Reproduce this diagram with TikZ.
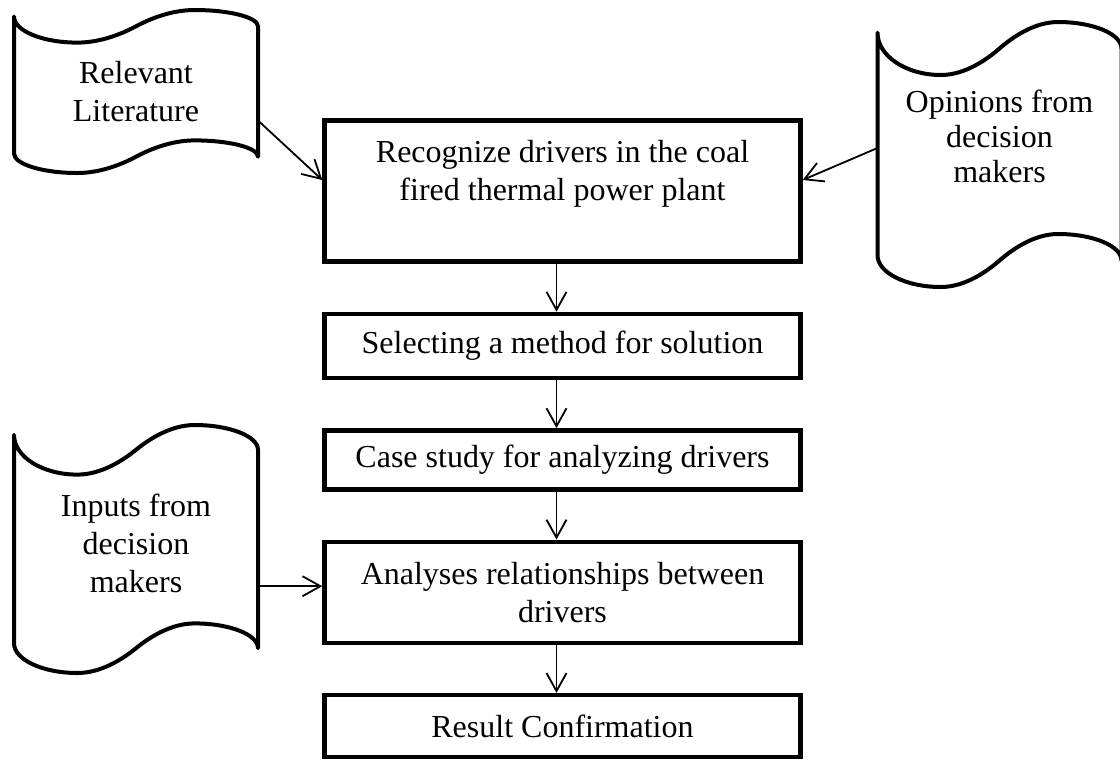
\documentclass[tikz,border=0pt]{standalone}
\usepackage{fontspec}
\setmainfont{Liberation Serif}
\usepackage{tikz}
\usetikzlibrary{shapes.geometric, arrows.meta, positioning}
\tikzstyle{process} = [rectangle, draw=black, line width=2.2pt, minimum width=238pt, text centered, align=center, font=\fontsize{16pt}{19pt}\selectfont]
\tikzstyle{tape} = [rectangle, minimum width=122pt, inner sep=0pt, outer sep=0pt, text centered, align=center, font=\fontsize{16pt}{19pt}\selectfont]
\tikzstyle{tapeline} = [line width=2pt, line join=round]
\tikzstyle{arrow} = [line width=0.9pt, -{Straight Barb[length=9pt, width=10pt]}]

% wavy outline round a tape node, #2 = height in px
\newcommand{\tapeoutline}[2]{%
  \begin{scope}[shift={(#1.north west)}]
    \draw [tapeline] (0,{0.04*#2}) .. controls (0,{0.128*#2}) and (28.5,{0.2*#2}) .. (63.4,{0.2*#2})
      .. controls (87.8,{0.2*#2}) and (109.8,{0.14*#2}) .. (122,{0.1*#2})
      .. controls (134.2,{0.06*#2}) and (156.2,0) .. (180.6,0)
      .. controls (215.5,0) and (244,{0.045*#2}) .. (244,{0.1*#2})
      -- (244,{0.9*#2})
      .. controls (244,{0.845*#2}) and (215.5,{0.8*#2}) .. (180.6,{0.8*#2})
      .. controls (156.2,{0.8*#2}) and (134.2,{0.86*#2}) .. (122,{0.9*#2})
      .. controls (109.8,{0.94*#2}) and (87.8,#2) .. (63.4,#2)
      .. controls (28.5,#2) and (0,{0.946*#2}) .. (0,{0.88*#2}) -- cycle;
  \end{scope}}

\begin{document}
\begin{tikzpicture}[x=0.5pt, y=-0.5pt, node distance=24pt]
\useasboundingbox (0,0) rectangle (1120,762);
\node (rec) [process, minimum height=70.5pt, text depth=20.5pt] at (562.5,191) {Recognize drivers in the coal\\fired thermal power plant};
\node (sel) [process, minimum height=32pt, below=of rec] {Selecting a method for solution};
\node (cas) [process, minimum height=29.5pt, below=of sel] {Case study for analyzing drivers};
\node (ana) [process, minimum height=50.5pt, below=of cas] {Analyses relationships between\\drivers};
\node (res) [process, minimum height=31pt, below=of ana] {Result Confirmation};

\node (lit) [tape, minimum height=81.5pt] at (136,91.5) {Relevant\\Literature};
\node (opn) [tape, minimum height=132.5pt, text depth=18pt, font=\fontsize{16pt}{17.5pt}\selectfont] at (999.5,154.5) {Opinions from\\decision\\makers};
\node (inp) [tape, minimum height=124pt, text depth=6pt] at (136,549) {Inputs from\\decision\\makers};
\tapeoutline{lit}{163}
\tapeoutline{opn}{265}
\tapeoutline{inp}{248}

\foreach \a/\b in {rec/sel, sel/cas, cas/ana, ana/res}
  \draw [arrow] ([xshift=-3pt]\a.south) -- ([xshift=-3pt]\b.north);
\draw [arrow] ([yshift=-14.5pt]lit.east) -- ([yshift=5.5pt]rec.west);
\draw [arrow] ([yshift=3.25pt]opn.west) -- ([yshift=5.5pt]rec.east);
\coordinate (anain) at ([yshift=3pt]ana.west);
\draw [arrow] (inp.east |- anain) -- (anain);
\end{tikzpicture}
\end{document}
